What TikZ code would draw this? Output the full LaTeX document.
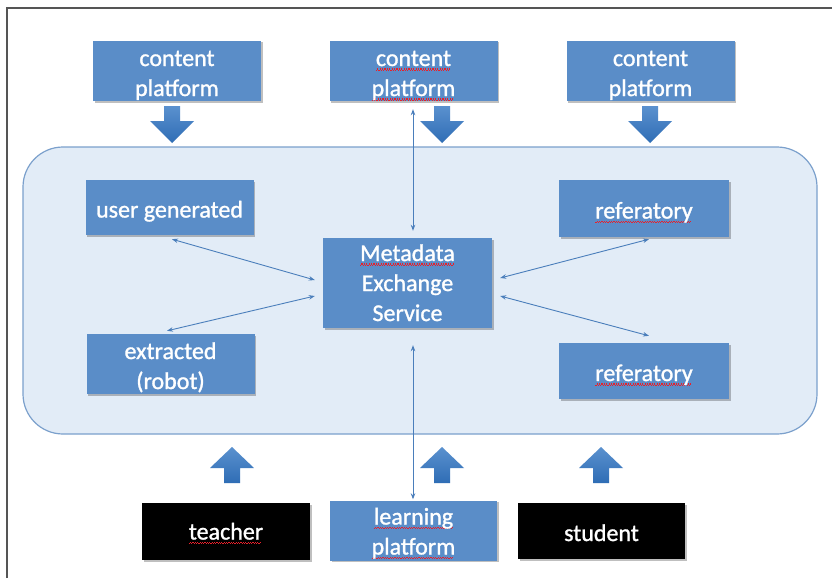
\documentclass[tikz,border=0pt]{standalone}
\usepackage{fontspec}
\setmainfont{Carlito}[FakeBold=1.2]
\usetikzlibrary{arrows.meta,calc,shadows}
\definecolor{boxblue}{HTML}{5A8DC8}
\definecolor{contfill}{HTML}{E2ECF7}
\definecolor{contline}{HTML}{7BA0CC}
\definecolor{linkblue}{HTML}{4A7EBB}
\definecolor{arrowblue}{HTML}{3D7DC6}
\definecolor{arrowdark}{HTML}{2F6DB5}
\definecolor{squig}{HTML}{E8202A}
\definecolor{framegray}{HTML}{555555}
\newsavebox\sqbox
\newcommand\sqg[1]{\sbox\sqbox{#1}\rlap{\textcolor{squig}{\hbox to\wd\sqbox{\leaders\hbox{\rule[-4.6pt]{1.2pt}{1.1pt}\rule[-3.5pt]{1.2pt}{1.1pt}}\hfil}}}\usebox\sqbox}
\newcommand\lt[2][-4pt]{\raisebox{#1}[\height][\depth]{\begin{tabular}{@{}c@{}}#2\end{tabular}}}
\begin{document}
\begin{tikzpicture}[x=1pt,y=-1pt,
  box/.style={rectangle, fill=boxblue, text=white,
    font=\fontsize{24}{30}\selectfont, inner sep=0pt,
    minimum width=168pt, minimum height=56pt,
    drop shadow={shadow xshift=1.5pt,shadow yshift=-1.5pt,fill=black,opacity=0.25}},
  blackbox/.style={box, fill=black},
  container/.style={fill=contfill, draw=contline, line width=1.2pt, rounded corners=40pt},
  link/.style={draw=linkblue, line width=0.9pt, {Stealth[length=6pt,width=4.5pt]}-{Stealth[length=6pt,width=4.5pt]}},
  blockarr/.style={top color=arrowblue!85!white, bottom color=arrowdark, draw=none}
]
\useasboundingbox (0,0) rectangle (832,578);
\fill[white] (0,0) rectangle (832,578);
% frame
\draw[framegray, line width=2pt] (7,578) -- (7,8) -- (832,8);

% container
\path[container] (23,147) rectangle (817,434);

% top content platforms
\node[box] (cp1) at (177,71) {\lt{content\\platform}};
\node[box] (cp2) at (413.5,71) {\lt{\sqg{content}\\\sqg{platform}}};
\node[box] (cp3) at (650.5,71) {\lt{content\\platform}};

% inner nodes
\node[box, minimum height=55pt] (ug) at (169.5,207.5) {\lt{user generated}};
\node[box] (ex) at (170.5,364) {\lt{extracted\\(robot)}};
\node[box, minimum width=170pt, minimum height=57pt] (r1) at (644,208.5) {\lt{\sqg{referatory}}};
\node[box, minimum width=170pt, minimum height=56pt] (r2) at (644,371) {\lt{\sqg{referatory}}};
\node[box, minimum width=169pt, minimum height=90pt] (meta) at (407.5,283) {\lt[-2pt]{\sqg{Metadata}\\Exchange\\Service}};

% bottom nodes
\node[blackbox, minimum height=57pt] (teacher) at (226,531.5) {\lt[-2pt]{\sqg{teacher}}};
\node[box, minimum width=167pt, minimum height=55pt] (lp) at (413.5,530.5) {\lt[-3pt]{\sqg{learning}\\\sqg{platform}}};
\node[blackbox, minimum width=167pt] (student) at (601.5,531) {\lt{student}};

% block arrows (down)
\foreach \x in {172,442,650}{
  \path[blockarr] (\x-8,106) -- (\x+8,106) -- (\x+8,121) -- (\x+22,121) -- (\x,143) -- (\x-22,121) -- (\x-8,121) -- cycle;
}
% block arrows (up)
\foreach \x in {232,442,601}{
  \path[blockarr] (\x-8,483) -- (\x+8,483) -- (\x+8,468) -- (\x+22,468) -- (\x,447) -- (\x-22,468) -- (\x-8,468) -- cycle;
}

% connectors
\draw[link] ($(cp2.south)+(-0.5,8)$) -- ($(meta.north)+(5.5,-7)$);
\draw[link] ($(meta.south)+(5.5,17)$) -- ($(lp.north)+(-0.5,-1)$);
\draw[link] ($(ug.south)+(2.5,4)$) -- ($(meta.west)+(-8,-3)$);
\draw[link] ($(ex.north)+(-3.5,-3)$) -- ($(meta.west)+(-8,13)$);
\draw[link] ($(r1.south)+(5,2)$) -- ($(meta.east)+(8,-5)$);
\draw[link] ($(r2.north)+(5,-7)$) -- ($(meta.east)+(8,13)$);
\end{tikzpicture}
\end{document}
